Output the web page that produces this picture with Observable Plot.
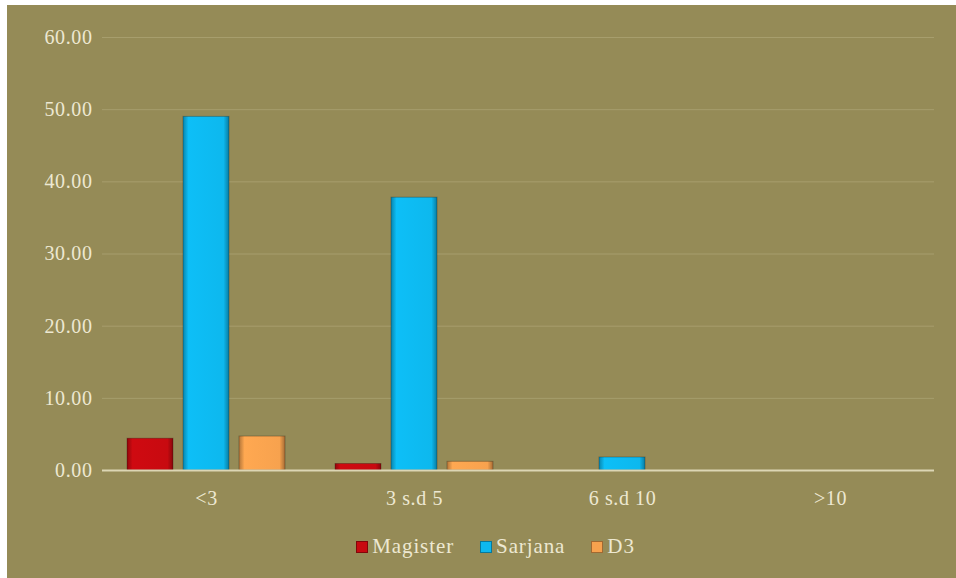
<!DOCTYPE html>
<html>
<head>
<meta charset="utf-8">
<script src="https://cdn.jsdelivr.net/npm/d3@7"></script>
<script src="https://cdn.jsdelivr.net/npm/@observablehq/plot@0.6"></script>
<style>
  html, body { margin: 0; padding: 0; background: #ffffff; }
  #frame { position: absolute; left: 7px; top: 5px; width: 949px; height: 573px; background: #958B57; overflow: hidden; }
  #legend { position: absolute; left: 0; width: 949px; top: 529px; display: flex; justify-content: center; gap: 26px;
            font-family: "Liberation Serif", "DejaVu Serif", serif; font-size: 21px; color: #EDE8D2; padding-left: 28px; box-sizing: border-box; letter-spacing: 0.9px; }
  #legend span.item { display: inline-flex; align-items: center; }
  #legend span.sw { display: inline-block; width: 10px; height: 10px; margin-right: 4px; border: 1px solid rgba(0,0,0,0.35); }
</style>
</head>
<body>
<div id="frame">
  <div id="chart"></div>
  <div id="legend"></div>
</div>
<script>
const categories = ["<3", "3 s.d 5", "6 s.d 10", ">10"];
const series = ["Magister", "Sarjana", "D3"];
const magister = [4.4, 0.9, 0, 0];
const sarjana = [49.0, 37.8, 1.8, 0];
const d3vals = [4.7, 1.2, 0, 0];
const colors = ["#C80A10", "#0DB8EE", "#F7A24E"];
const yTicks = [0, 10, 20, 30, 40, 50, 60];

const seriesValues = [magister, sarjana, d3vals];
const data = [];
categories.forEach((c, i) => {
  series.forEach((s, j) => {
    data.push({category: c, series: s, value: seriesValues[j][i]});
  });
});

const cream = "#EDE8D2";

const chart = Plot.plot({
  width: 949,
  height: 512,
  marginLeft: 93,
  marginRight: 21,
  marginTop: 32,
  marginBottom: 47,
  style: { background: "transparent", fontFamily: "Liberation Serif, DejaVu Serif, serif", fontSize: "20px", letterSpacing: "0.6px", color: cream, overflow: "visible" },
  fx: { domain: categories, padding: 0, label: null, axis: "bottom", tickSize: 0, tickPadding: 20 },
  x: { domain: series, paddingInner: 0.175, paddingOuter: 0.42, axis: null },
  y: { domain: [0, 60], ticks: yTicks, tickFormat: d => d.toFixed(2), tickSize: 0, tickPadding: 10, label: null, grid: false },
  color: { domain: series, range: colors },
  marks: [
    Plot.ruleY(yTicks.filter(t => t > 0), { stroke: "#ABA273", strokeWidth: 1, strokeOpacity: 0.8 }),
    Plot.barY(data, { fx: "category", x: "series", y: "value", fill: "series", stroke: "rgba(0,0,0,0.25)", strokeWidth: 1 }),
    Plot.ruleY([0], { stroke: "#DCD6B4", strokeWidth: 2 })
  ]
});

document.getElementById("chart").appendChild(chart);

// gradient styling for the bars
const svg = d3.select(chart);
const defs = svg.insert("defs", ":first-child");
colors.forEach((c, i) => {
  const base = d3.color(c);
  const g = defs.append("linearGradient").attr("id", "grad" + i).attr("x1", 0).attr("x2", 1).attr("y1", 0).attr("y2", 0);
  g.append("stop").attr("offset", "0%").attr("stop-color", base.darker(0.9));
  g.append("stop").attr("offset", "12%").attr("stop-color", base.brighter(0.1));
  g.append("stop").attr("offset", "88%").attr("stop-color", base);
  g.append("stop").attr("offset", "100%").attr("stop-color", base.darker(1.1));
});
svg.selectAll("rect").each(function() {
  const f = this.getAttribute("fill");
  if (!f) return;
  const idx = colors.findIndex(c => d3.color(c).formatHex() === d3.color(f)?.formatHex());
  if (idx >= 0) this.setAttribute("fill", "url(#grad" + idx + ")");
});

// legend
const legend = d3.select("#legend");
series.forEach((s, i) => {
  const item = legend.append("span").attr("class", "item");
  item.append("span").attr("class", "sw").style("background", colors[i]);
  item.append("span").text(s);
});
</script>
</body>
</html>
